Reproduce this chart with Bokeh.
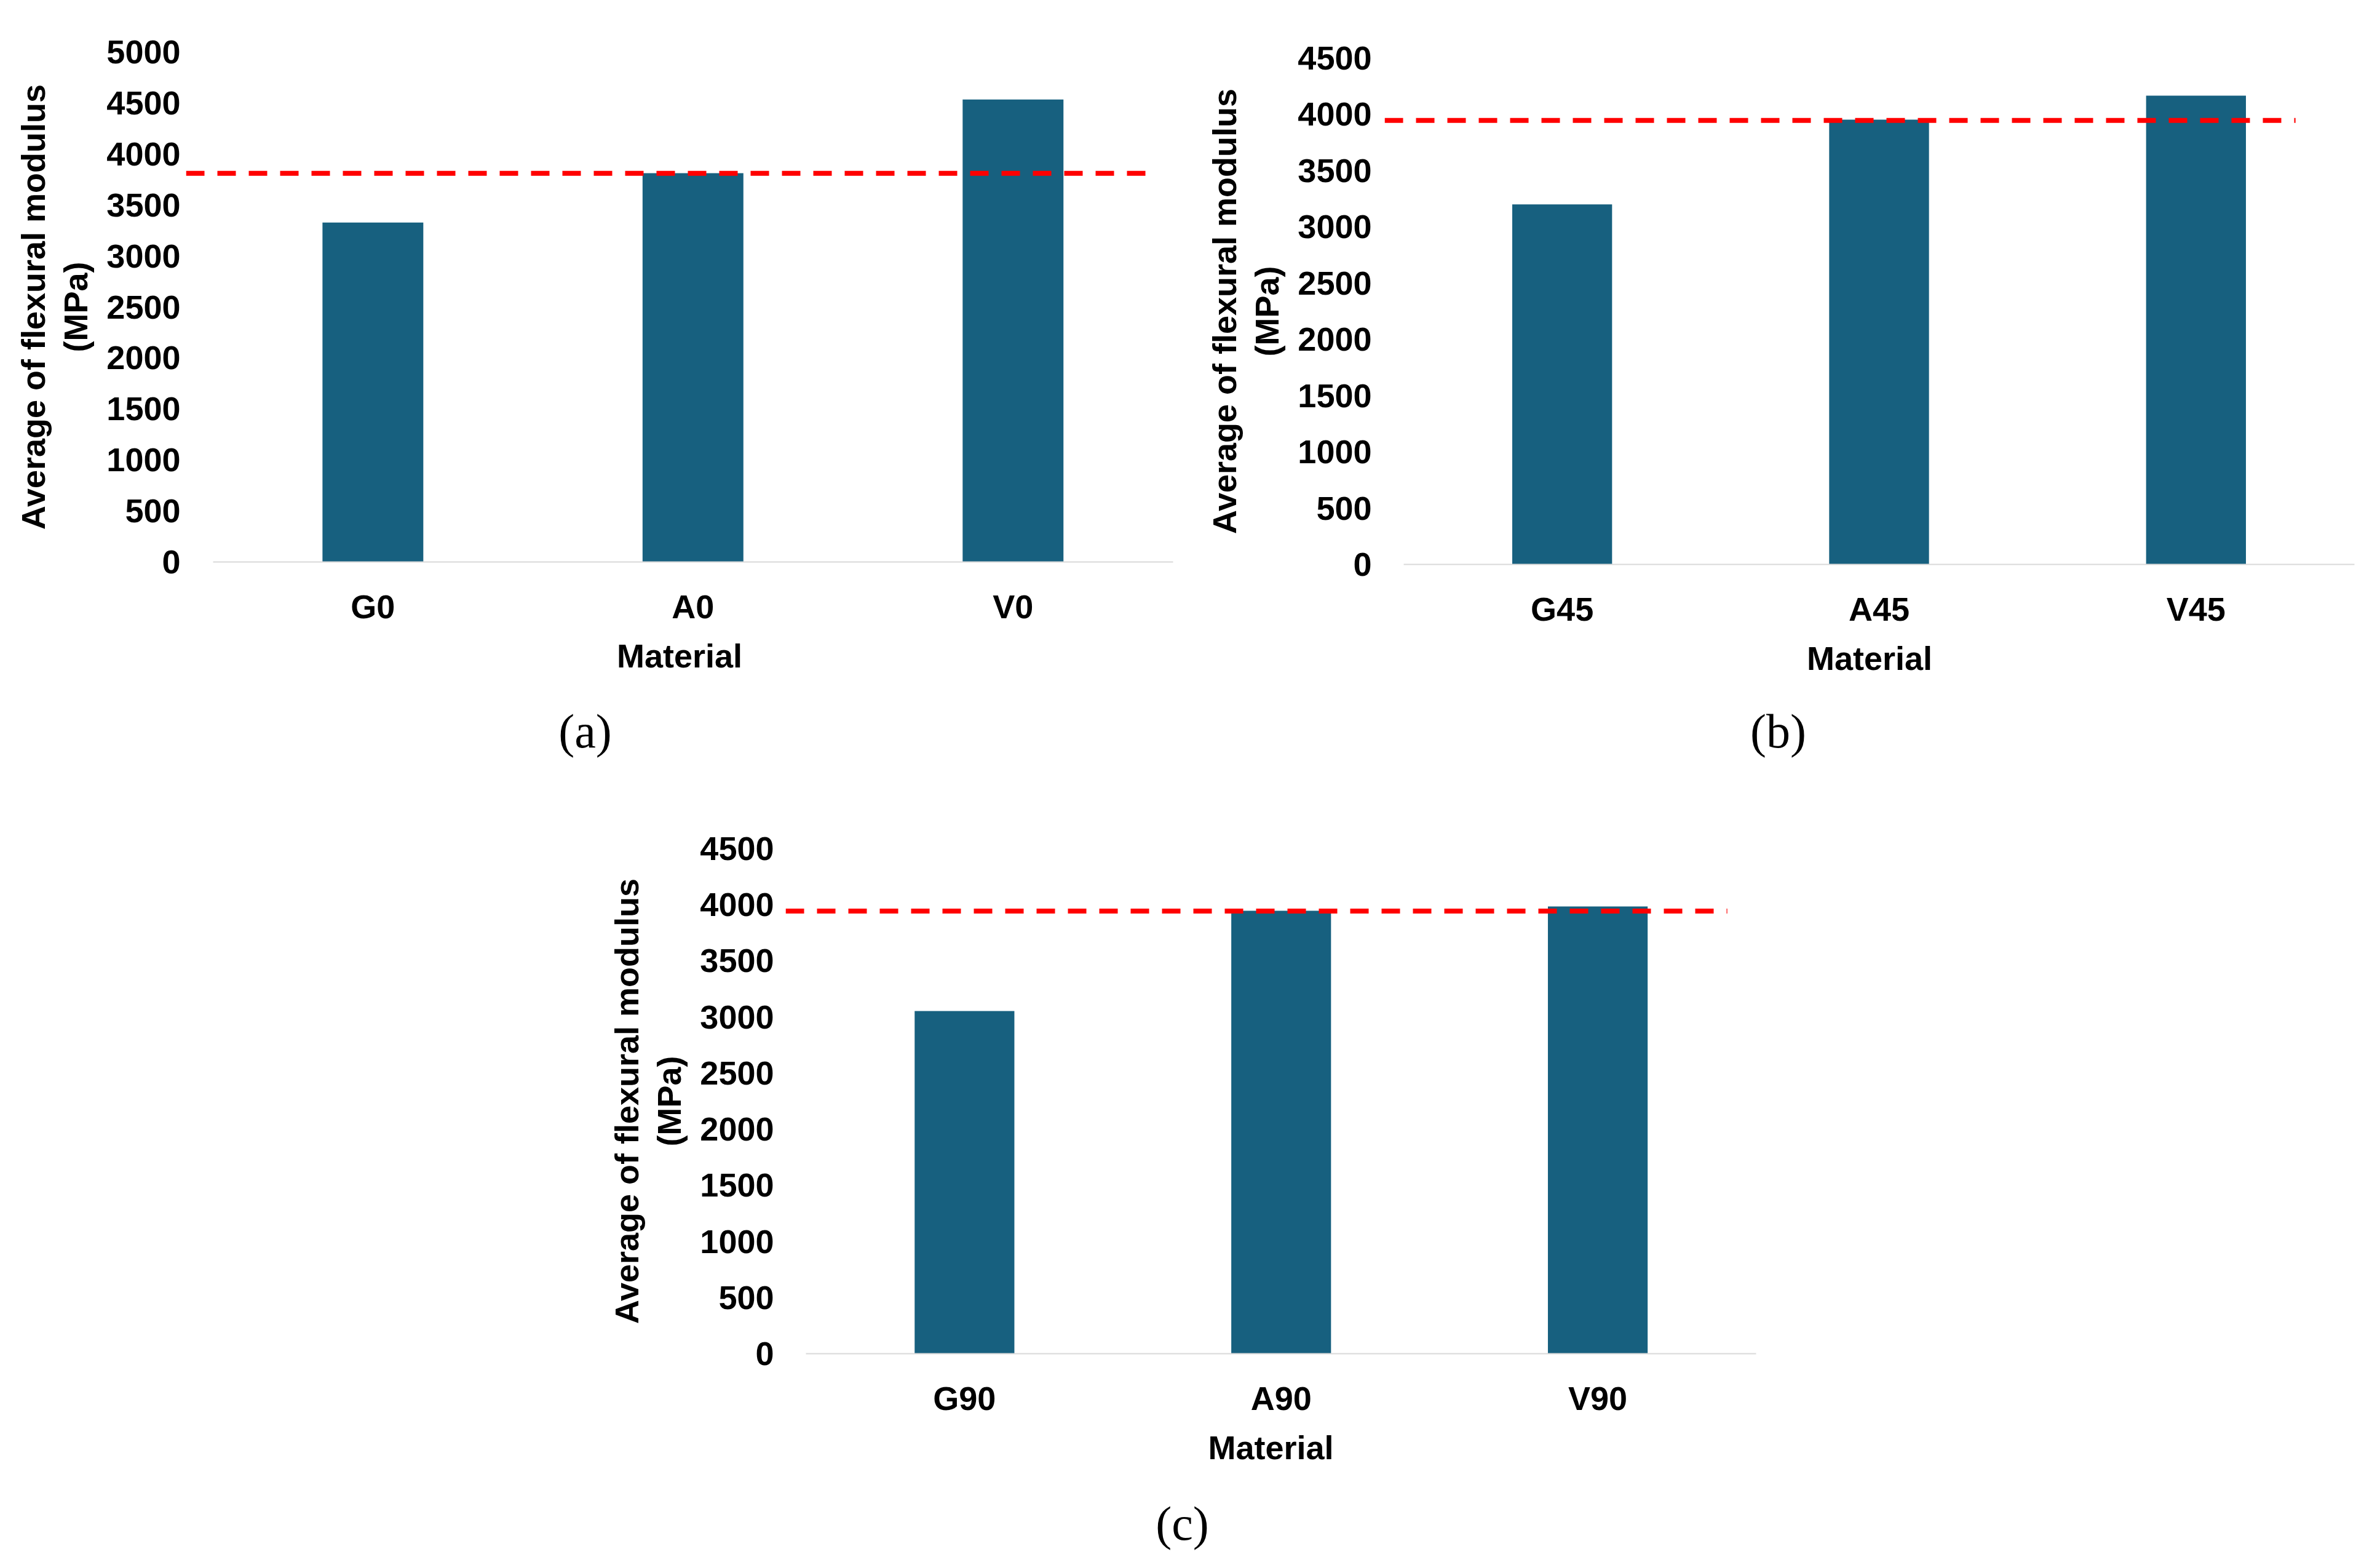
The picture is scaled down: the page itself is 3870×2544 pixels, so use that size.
from bokeh.plotting import figure
from bokeh.models import Range1d, FixedTicker
from bokeh.core.properties import value
from bokeh.layouts import column, row
from bokeh.embed import file_html
from bokeh.resources import INLINE

# ---------------- data ----------------
materials_a = ["G0", "A0", "V0"]
modulus_a = [3328, 3812, 4534]
reference_a = 3810

materials_b = ["G45", "A45", "V45"]
modulus_b = [3200, 3953, 4167]
reference_b = 3947

materials_c = ["G90", "A90", "V90"]
modulus_c = [3053, 3947, 3985]
reference_c = 3943

y_ticks_a = [0, 500, 1000, 1500, 2000, 2500, 3000, 3500, 4000, 4500, 5000]
y_ticks_bc = [0, 500, 1000, 1500, 2000, 2500, 3000, 3500, 4000, 4500]

x_title = "Material"
y_title = "Average of flexural modulus\n(MPa)"
captions = ["(a)", "(b)", "(c)"]

# ---------------- style ----------------
BAR_COLOR = "#17607f"
REF_COLOR = "#ff0000"
AXIS_COLOR = "#d9d9d9"
SANS = "Liberation Sans"
SERIF = "Liberation Serif"
FS = "54px"


def make_panel(cats, vals, ref, yticks, fw, fh, bl, br, bt, bb,
               x_lead, dash_end, tick_standoff):
    n = len(cats)
    xs = [i + 1 for i in range(n)]
    x0, x1 = 0.5 - x_lead, n + 0.5
    p = figure(frame_width=fw, frame_height=fh,
               min_border_left=bl, min_border_right=br,
               min_border_top=bt, min_border_bottom=bb,
               x_range=Range1d(x0, x1),
               y_range=Range1d(0, yticks[-1]),
               output_backend="svg", toolbar_location=None, tools="",
               title=None)
    p.frame_align = False
    p.outline_line_color = None
    p.background_fill_color = "white"
    p.border_fill_color = "white"
    p.xgrid.visible = False
    p.ygrid.visible = False

    p.vbar(x=xs, top=vals, bottom=0, width=0.315, fill_color=BAR_COLOR,
           line_color=None)
    p.line(x=[x0, 0.5 + dash_end], y=[ref, ref], line_color=REF_COLOR,
           line_width=8, line_dash="30 21", line_cap="butt")

    xa = p.xaxis[0]
    xa.ticker = FixedTicker(ticks=xs)
    xa.major_label_overrides = {x: c for x, c in zip(xs, cats)}
    xa.bounds = (0.5, n + 0.5)
    xa.axis_line_color = AXIS_COLOR
    xa.axis_line_width = 2
    xa.major_tick_line_color = None
    xa.minor_tick_line_color = None
    xa.major_tick_out = 0
    xa.major_label_standoff = 42
    xa.major_label_text_font = SANS
    xa.major_label_text_font_style = "bold"
    xa.major_label_text_font_size = FS
    xa.major_label_text_color = "black"
    xa.axis_label = x_title
    xa.axis_label_standoff = 17
    xa.axis_label_text_font = SANS
    xa.axis_label_text_font_style = "bold"
    xa.axis_label_text_font_size = FS
    xa.axis_label_text_color = "black"

    ya = p.yaxis[0]
    ya.ticker = FixedTicker(ticks=yticks)
    ya.axis_line_color = None
    ya.major_tick_line_color = None
    ya.minor_tick_line_color = None
    ya.major_tick_out = 0
    ya.major_label_standoff = tick_standoff
    ya.major_label_text_font = SANS
    ya.major_label_text_font_style = "bold"
    ya.major_label_text_font_size = FS
    ya.major_label_text_color = "black"
    ya.axis_label = y_title
    ya.axis_label_standoff = 17
    ya.axis_label_text_font = SANS
    ya.axis_label_text_font_style = "bold"
    ya.axis_label_text_font_size = FS
    ya.axis_label_text_line_height = 1.16
    ya.axis_label_text_color = "black"
    return p


def make_caption(text, w, h, cx, cy):
    # strip holding the sub-figure caption; coordinates in pixels from top-left
    c = figure(frame_width=w, frame_height=h, min_border=0,
               x_range=Range1d(0, w), y_range=Range1d(h, 0),
               x_axis_type=None, y_axis_type=None,
               output_backend="svg", toolbar_location=None, tools="",
               title=None)
    c.frame_align = False
    c.outline_line_color = None
    c.background_fill_color = "white"
    c.border_fill_color = "white"
    c.text(x=[cx], y=[cy], text=[text], text_align="center",
           text_baseline="middle", text_font=value(SERIF),
           text_font_size=value("78px"), text_color="black")
    return c


pa = make_panel(materials_a, modulus_a, reference_a, y_ticks_a,
                fw=1605, fh=829, bl=302, br=28, bt=84, bb=227,
                x_lead=0.0838, dash_end=2.952, tick_standoff=9)
pb = make_panel(materials_b, modulus_b, reference_b, y_ticks_bc,
                fw=1577, fh=823, bl=316, br=34, bt=94, bb=223,
                x_lead=0.0601, dash_end=2.814, tick_standoff=21)
pc = make_panel(materials_c, modulus_c, reference_c, y_ticks_bc,
                fw=1578, fh=821, bl=1277, br=50, bt=107, bb=212,
                x_lead=0.0649, dash_end=2.909, tick_standoff=19)

ca = make_caption(captions[0], 1935, 132, 951, 48)
cb = make_caption(captions[1], 1927, 132, 956, 48)
cc = make_caption(captions[2], 2905, 128, 1922, 64)

layout = column(row(column(pa, ca), column(pb, cb)), column(pc, cc))
open("out.html", "w").write(file_html(layout, INLINE))
